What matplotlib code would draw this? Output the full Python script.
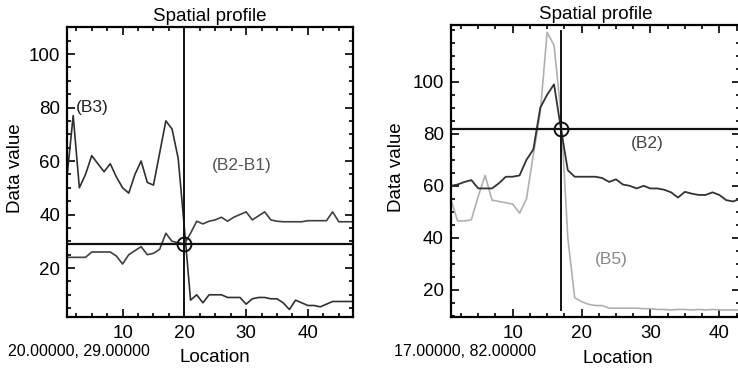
import matplotlib
matplotlib.use("Agg")
import matplotlib.pyplot as plt
from matplotlib.ticker import MultipleLocator, FixedLocator
import numpy as np

plt.rcParams['font.family'] = ['Liberation Sans', 'DejaVu Sans']

# ---------------- data ----------------
loc_left = list(range(1, 48))
b3_left = [54, 77, 50, 55, 62, 59, 56, 59, 54, 50, 48, 55, 60, 52, 51, 63, 75, 72, 61, 35,
           8, 10, 7, 10, 10, 10, 9, 9, 9, 6.5, 8.5, 9, 9, 8.5, 8.5, 7, 4.5, 8, 7, 6, 6, 5.5,
           6.5, 7.5, 7.5, 7.5, 7.5]
b2b1_left = [24, 24, 24, 24, 26, 26, 26, 26, 24.5, 21.5, 25, 26.5, 28, 25, 25.5, 27, 33, 30,
             29.5, 29, 33, 37.5, 36.5, 37.5, 38, 39, 37.5, 39, 40, 41, 38, 39.5, 41, 38, 37.5,
             37.3, 37.3, 37.3, 37.3, 37.7, 37.7, 37.7, 37.7, 41, 37.3, 37.3, 37.3]
cursor_left = (20, 29)

loc_right = list(range(1, 44))
b2_right = [60, 60.5, 61.5, 62.2, 59, 59, 59, 61, 63.5, 63.5, 64, 70, 74, 90, 95, 99, 82, 66,
            63.5, 63.5, 63.5, 63.5, 63, 61.5, 62.5, 60.5, 60, 59, 60, 59, 59, 58.5, 57.5, 55.5,
            57.7, 57, 56.5, 56.5, 57.5, 56.5, 54.5, 54, 55]
b5_right = [55, 46.5, 46.5, 47, 56, 64, 54.5, 54, 53.5, 53, 49.5, 55, 72, 88, 119, 114, 88, 40,
            17, 15.5, 14.5, 14, 14, 13, 13, 13, 13, 13, 12.8, 12.8, 12.5, 12.5, 12.3, 12.5,
            12.5, 12.3, 12.5, 12.3, 12.5, 12.3, 12.3, 12.3, 12.3]
cursor_right = (17, 82)
yticks = [20, 40, 60, 80, 100]
xticks = [10, 20, 30, 40]

W, H = 738, 368
fig = plt.figure(figsize=(W / 100, H / 100), dpi=100)


def make_axes(l, t, r, b):
    ax = fig.add_axes([l / W, 1 - b / H, (r - l) / W, (b - t) / H])
    ax.tick_params(which='both', direction='in', top=True, right=True, labelsize=13.5,
                   width=1.2, pad=5)
    ax.tick_params(which='major', length=6)
    ax.tick_params(which='minor', length=3)
    ax.tick_params(axis='x', pad=6)
    for s in ax.spines.values():
        s.set_linewidth(1.6)
    ax.xaxis.set_major_locator(FixedLocator(xticks))
    ax.xaxis.set_minor_locator(MultipleLocator(2.5))
    ax.yaxis.set_major_locator(FixedLocator(yticks))
    ax.yaxis.set_minor_locator(MultipleLocator(5))
    return ax


def crosshair(ax, x, y, y0=None, y1=None):
    if y0 is None:
        ax.axvline(x, color='#111111', lw=1.4, zorder=5)
    else:
        ax.plot([x, x], [y0, y1], color='#111111', lw=1.4, zorder=5)
    ax.axhline(y, color='#111111', lw=1.6, zorder=5)
    ax.plot([x], [y], marker='o', ms=10, mfc='none', mec='#111111', mew=1.4, zorder=6)


# ---------------- left panel ----------------
ax1 = make_axes(67, 27, 353, 317)
ax1.plot(loc_left, b3_left, color='#303030', lw=1.2)
ax1.plot(loc_left, b2b1_left, color='#404040', lw=1.2)
ax1.set_xlim(1, 47.3)
ax1.set_ylim(1.7, 110.1)
crosshair(ax1, *cursor_left)
ax1.text(2.5, 80, '(B3)', color='#222222', fontsize=12.5, va='center', ha='left')
ax1.text(24.5, 58.2, '(B2-B1)', color='#555555', fontsize=12.5, va='center', ha='left')
ax1.set_title('Spatial profile', fontsize=13.5, pad=4)
ax1.set_xlabel('Location', fontsize=13.5)
ax1.xaxis.set_label_coords(0.516, -0.141)
ax1.xaxis.label.set_va('center')
ax1.set_ylabel('Data value', fontsize=13.5)
ax1.yaxis.set_label_coords(-0.18, 0.514)
ax1.yaxis.label.set_va('center')
fig.text(8 / W, 1 - 352 / H, '20.00000, 29.00000', fontsize=11.5, va='center', ha='left')

# ---------------- right panel ----------------
ax2 = make_axes(450.7, 25, 740, 317)
ax2.plot(loc_right, b5_right, color='#b0b0b0', lw=1.2)
ax2.plot(loc_right, b2_right, color='#333333', lw=1.3)
ax2.set_xlim(1, 43)
ax2.set_ylim(9.6, 121.8)
crosshair(ax2, *cursor_right, y0=12.3, y1=119.5)
ax2.text(27.2, 76.3, '(B2)', color='#444444', fontsize=12.5, va='center', ha='left')
ax2.text(21.9, 31.8, '(B5)', color='#888888', fontsize=12.5, va='center', ha='left')
ax2.set_title('Spatial profile', fontsize=13.5, pad=4)
ax2.set_xlabel('Location', fontsize=13.5)
ax2.xaxis.set_label_coords(0.577, -0.141)
ax2.xaxis.label.set_va('center')
ax2.set_ylabel('Data value', fontsize=13.5)
ax2.yaxis.set_label_coords((396.3 - 450.7) / 289.3, 0.514)
ax2.yaxis.label.set_va('center')
fig.text(394 / W, 1 - 351 / H, '17.00000, 82.00000', fontsize=11.5, va='center', ha='left')

fig.savefig('out.png', dpi=100)
